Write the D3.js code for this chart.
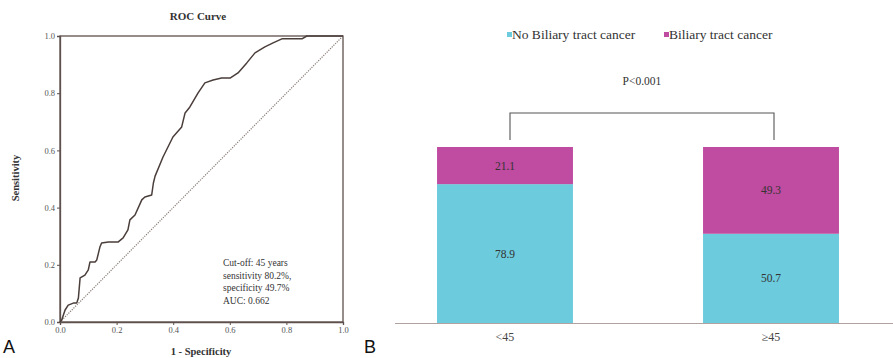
<!DOCTYPE html>
<html><head><meta charset="utf-8">
<script src="https://cdn.jsdelivr.net/npm/d3@7"></script>
<style>body{margin:0;background:#fff}svg{display:block}</style>
</head><body>
<svg id="c" width="893" height="358"></svg>
<script>
// ROC curve data
const rocFpr = [0,0.006,0.018,0.029,0.047,0.059,0.065,0.071,0.088,0.100,0.106,0.124,0.130,0.141,0.147,0.171,0.206,0.223,0.240,0.247,0.265,0.289,0.300,0.324,0.330,0.336,0.364,0.399,0.430,0.442,0.459,0.488,0.512,0.541,0.571,0.601,0.629,0.660,0.689,0.724,0.753,0.784,0.855,0.872,1.0];
const rocTpr = [0,0.007,0.042,0.059,0.066,0.066,0.084,0.154,0.164,0.182,0.210,0.210,0.217,0.262,0.276,0.280,0.280,0.294,0.322,0.357,0.374,0.427,0.437,0.444,0.486,0.510,0.577,0.647,0.682,0.731,0.752,0.801,0.836,0.846,0.853,0.853,0.871,0.906,0.941,0.962,0.976,0.990,0.990,1.0,1.0];
const rocTicks = [0.0,0.2,0.4,0.6,0.8,1.0];
const rocNotes = ["Cut-off: 45 years","sensitivity 80.2%,","specificity 49.7%","AUC: 0.662"];

// Bar chart data
const categories = ["<45","\u226545"];
const seriesNames = ["No Biliary tract cancer","Biliary tract cancer"];
const noCancer = [78.9, 50.7];
const cancer = [21.1, 49.3];
const pText = "P<0.001";

const svg = d3.select("#c");
svg.append("rect").attr("width",893).attr("height",358).attr("fill","#fff");
const serif = "'Liberation Serif','Times New Roman',serif";
const axisCol = "#5e504c";

// ---------- Panel A ----------
const x = d3.scaleLinear().domain([0,1]).range([60,343]);
const y = d3.scaleLinear().domain([0,1]).range([322,36]);
const gA = svg.append("g");

// frame
gA.append("rect").attr("x",x(0)).attr("y",y(1)).attr("width",x(1)-x(0)).attr("height",y(0)-y(1))
  .attr("fill","none").attr("stroke",axisCol).attr("stroke-width",1.3);

const xAx = gA.append("g").attr("transform",`translate(0,${y(0)})`)
  .call(d3.axisBottom(x).tickValues(rocTicks).tickFormat(d3.format(".1f")).tickSize(3).tickPadding(2));
const yAx = gA.append("g").attr("transform",`translate(${x(0)},0)`)
  .call(d3.axisLeft(y).tickValues(rocTicks).tickFormat(d3.format(".1f")).tickSize(3).tickPadding(2));
[xAx,yAx].forEach(a=>{
  a.attr("font-family",serif);
  a.select(".domain").attr("stroke",axisCol).attr("stroke-width",1.3);
  a.selectAll(".tick line").attr("stroke",axisCol);
  a.selectAll("text").attr("font-family",serif).attr("font-size",8.5).attr("fill","#555");
});

// diagonal reference
gA.append("line").attr("x1",x(0)).attr("y1",y(0)).attr("x2",x(1)).attr("y2",y(1))
  .attr("stroke","#8a7c78").attr("stroke-width",1.2).attr("stroke-dasharray","1.2,1.2");

// ROC curve
const pts = rocFpr.map((f,i)=>[f,rocTpr[i]]);
gA.append("path").datum(pts)
  .attr("d",d3.line().x(d=>x(d[0])).y(d=>y(d[1])))
  .attr("fill","none").attr("stroke","#4a3e3b").attr("stroke-width",1.5).attr("stroke-linejoin","round");

gA.append("text").attr("x",198).attr("y",20).attr("text-anchor","middle")
  .attr("font-family",serif).attr("font-size",11).attr("font-weight","bold").attr("fill","#333").text("ROC Curve");
gA.append("text").attr("x",201).attr("y",355).attr("text-anchor","middle")
  .attr("font-family",serif).attr("font-size",10.5).attr("font-weight","bold").attr("fill","#333").text("1 - Specificity");
gA.append("text").attr("transform","translate(19,178) rotate(-90)").attr("text-anchor","middle")
  .attr("font-family",serif).attr("font-size",10.5).attr("font-weight","bold").attr("fill","#333").text("Sensitivity");

gA.selectAll("text.note").data(rocNotes).join("text").attr("class","note")
  .attr("x",223).attr("y",(d,i)=>266+i*12.7)
  .attr("font-family",serif).attr("font-size",9.5).attr("fill","#333").text(d=>d);

svg.append("text").attr("x",3).attr("y",353).attr("font-family","'Liberation Sans',Arial,sans-serif")
  .attr("font-size",18).attr("fill","#111").text("A");

// ---------- Panel B ----------
const colors = ["#6ccbdc","#bf4ca0"];
const xb = d3.scaleBand().domain(categories).range([370,906]).paddingInner(0.489).paddingOuter(0.252);
const yb = d3.scaleLinear().domain([0,100]).range([323,147]);
const gB = svg.append("g");

// baseline
gB.append("line").attr("x1",395).attr("x2",893).attr("y1",yb(0)+0.5).attr("y2",yb(0)+0.5)
  .attr("stroke","#b0a2a0").attr("stroke-width",1);

categories.forEach((c,i)=>{
  const bx = xb(c), bw = xb.bandwidth();
  gB.append("rect").attr("x",bx).attr("y",yb(noCancer[i])).attr("width",bw).attr("height",yb(0)-yb(noCancer[i])).attr("fill",colors[0]);
  gB.append("rect").attr("x",bx).attr("y",yb(noCancer[i]+cancer[i])).attr("width",bw).attr("height",yb(noCancer[i])-yb(noCancer[i]+cancer[i])).attr("fill",colors[1]);
  gB.append("text").attr("x",bx+bw/2).attr("y",(yb(0)+yb(noCancer[i]))/2+4).attr("text-anchor","middle")
    .attr("font-family",serif).attr("font-size",11.5).attr("fill","#333").text(noCancer[i].toFixed(1));
  gB.append("text").attr("x",bx+bw/2).attr("y",(yb(noCancer[i])+yb(noCancer[i]+cancer[i]))/2+4).attr("text-anchor","middle")
    .attr("font-family",serif).attr("font-size",11.5).attr("fill","#333").text(cancer[i].toFixed(1));
  gB.append("text").attr("x",bx+bw/2).attr("y",341).attr("text-anchor","middle")
    .attr("font-family",serif).attr("font-size",12).attr("fill","#444").text(c);
});

// bracket
const bl = xb(categories[0])+xb.bandwidth()/2+5, br = xb(categories[1])+xb.bandwidth()/2+3;
gB.append("path").attr("d",`M${bl},140V113H${br}V140`).attr("fill","none").attr("stroke","#555").attr("stroke-width",1.1);
gB.append("text").attr("x",(bl+br)/2).attr("y",85).attr("text-anchor","middle")
  .attr("font-family",serif).attr("font-size",11.5).attr("fill","#333").text(pText);

// legend
const legX = [507,664];
seriesNames.forEach((s,i)=>{
  gB.append("rect").attr("x",legX[i]).attr("y",32).attr("width",5).attr("height",5).attr("fill",colors[i]);
  gB.append("text").attr("x",legX[i]+5).attr("y",39).attr("font-family",serif).attr("font-size",13.5).attr("fill","#333").text(s);
});

svg.append("text").attr("x",364).attr("y",353).attr("font-family","'Liberation Sans',Arial,sans-serif")
  .attr("font-size",18).attr("fill","#111").text("B");
</script>
</body></html>
